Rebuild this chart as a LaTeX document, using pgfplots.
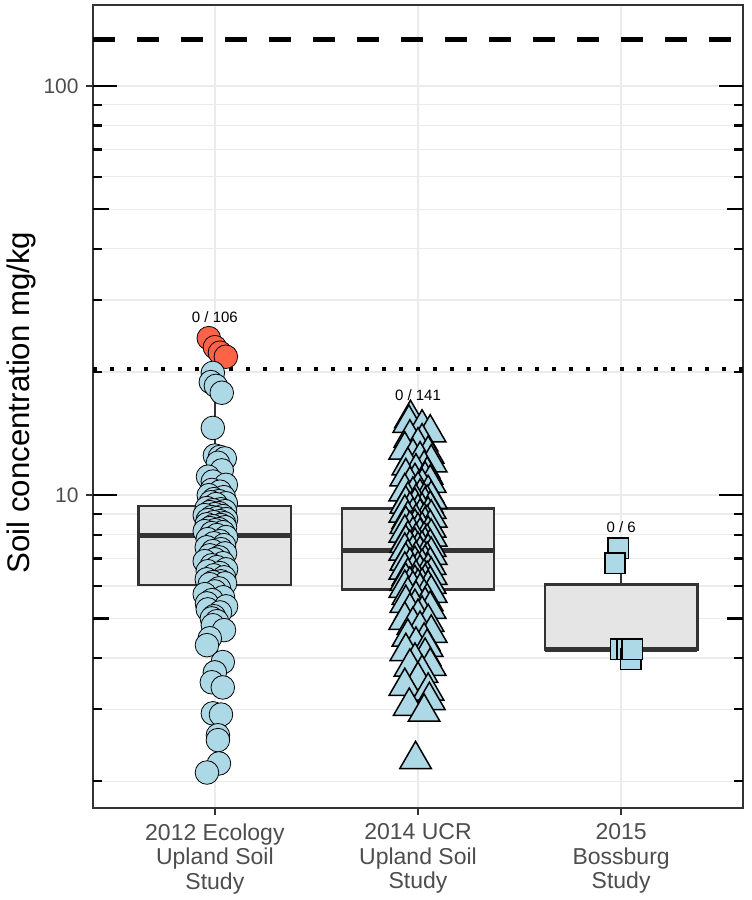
\documentclass[border=0pt]{standalone}
\usepackage{fontspec}
\setmainfont{Liberation Sans}
\usepackage{pgfplots}
\pgfplotsset{compat=1.18}
\definecolor{gridgray}{HTML}{EBEBEB}
\definecolor{gray20}{HTML}{333333}
\definecolor{gray30}{HTML}{4D4D4D}
\definecolor{gray90}{HTML}{E5E5E5}
\definecolor{ltblue}{HTML}{ADD8E6}
\definecolor{tomato}{HTML}{FF6347}
\pgfplotsset{
  circ/.style={only marks, mark=*, mark size=5.9pt, mark options={draw=black, line width=0.75pt}},
  tri/.style={only marks, mark=triangle*, mark size=9.1pt, mark options={fill=ltblue, draw=black, line width=0.75pt}},
  sq/.style={only marks, mark=square*, mark size=5.1pt, mark options={fill=ltblue, draw=black, line width=0.75pt}},
  whisk/.style={gray20, line width=1.1pt},
  boxs/.style={fill=gray90, draw=gray20, line width=1.3pt},
  med/.style={gray20, line width=2.6pt},
}
\begin{document}
\begin{tikzpicture}
\path[use as bounding box] (-46.5pt,-46pt) rectangle (329pt,404pt);
\begin{axis}[
  at={(0pt,0pt)}, anchor=south west,
  scale only axis, width=325pt, height=401.5pt,
  xmin=0.4, xmax=3.6,
  ymode=log, ymin=1.72, ymax=157.8,
  xtick={1,2,3},
  xticklabels={{2012 Ecology\\Upland Soil\\Study},{2014 UCR\\Upland Soil\\Study},{2015\\Bossburg\\Study}},
  ytick={10,100}, yticklabels={10,100},
  minor ytick={2,3,4,5,6,7,8,9,20,30,40,50,60,70,80,90},
  xtick pos=left, ytick pos=left,
  tick align=outside, major tick length=3.5pt, minor tick length=0pt,
  tick style={gray20, line width=1.1pt},
  xmajorgrids, ymajorgrids, yminorgrids,
  major grid style={gridgray, line width=0.85pt},
  minor grid style={gridgray, line width=0.6pt},
  axis line style={gray20, line width=1.2pt},
  xticklabel style={align=center, font=\fontsize{11.5}{12.35}\selectfont, text=gray30, inner sep=0pt, yshift=-4pt},
  yticklabel style={font=\fontsize{10.5}{12}\selectfont, text=gray30, inner sep=0pt, xshift=-3.5pt},
  ylabel={Soil concentration mg/kg},
  ylabel style={at={(axis description cs:-0.087,0.505)}, anchor=south, inner sep=0pt, font=\fontsize{15.6}{18}\selectfont, text=black},
]
% reference lines
\addplot[black, line width=2.6pt, dash pattern=on 11pt off 11pt] coordinates {(0.4,130) (3.6,130)};
\addplot[black, line width=2.1pt, dash pattern=on 2.1pt off 6.4pt] coordinates {(0.4,20.3) (3.6,20.3)};
% box 1
\addplot[whisk] coordinates {(1,9.40) (1,17.8)};
\addplot[whisk] coordinates {(1,6.03) (1,3.39)};
\addplot[boxs] coordinates {(0.625,6.03) (1.375,6.03) (1.375,9.40) (0.625,9.40)} -- cycle;
\addplot[med] coordinates {(0.625,7.98) (1.375,7.98)};
% box 2
\addplot[whisk] coordinates {(2,9.29) (2,15.4)};
\addplot[whisk] coordinates {(2,5.89) (2,3.05)};
\addplot[boxs] coordinates {(1.625,5.89) (2.375,5.89) (2.375,9.29) (1.625,9.29)} -- cycle;
\addplot[med] coordinates {(1.625,7.34) (2.375,7.34)};
% box 3
\addplot[whisk] coordinates {(3,6.04) (3,7.42)};
\addplot[whisk] coordinates {(3,4.20) (3,3.97)};
\addplot[boxs] coordinates {(2.625,4.20) (3.375,4.20) (3.375,6.04) (2.625,6.04)} -- cycle;
\addplot[med] coordinates {(2.625,4.20) (3.375,4.20)};
% group 1 points above threshold
\addplot[circ, mark options={fill=tomato}] coordinates {
(0.970,24.2) (1.000,23.0) (1.025,22.3) (1.054,21.8)};
% group 1 points
\addplot[circ, mark options={fill=ltblue}] coordinates {
(0.990,19.9) (0.980,18.9) (1.005,18.5) (1.034,17.8) (0.990,14.6) (1.000,12.5) (1.025,12.4) (1.049,12.3)
(1.015,12.0) (1.034,11.5) (0.966,11.1) (0.990,10.8) (1.054,10.6) (0.985,10.3) (1.025,10.2) (0.970,10.0)
(1.044,9.89) (0.995,9.78) (1.020,9.67) (0.980,9.61) (1.054,9.56) (1.005,9.51)
(0.960,9.30) (1.030,9.24) (0.990,9.19) (1.050,9.14) (0.975,9.09) (1.020,9.04) (1.000,8.99) (0.950,8.94)
(1.040,8.89) (0.985,8.84) (1.010,8.79) (1.055,8.74) (0.965,8.69) (1.025,8.64) (0.995,8.59) (1.045,8.54)
(0.960,8.49) (1.030,8.45) (0.990,8.40) (1.050,8.35) (0.975,8.31) (1.020,8.26) (1.000,8.21) (0.950,8.17)
(1.040,8.12) (0.985,8.08) (1.010,7.99) (1.055,7.90) (0.965,7.81) (1.025,7.72) (0.995,7.63) (1.045,7.55)
(0.960,7.46) (1.030,7.38) (0.990,7.30) (1.050,7.21) (0.975,7.13) (1.020,7.05) (1.000,6.97) (0.950,6.90)
(1.040,6.82) (0.985,6.74) (1.010,6.67) (1.055,6.59) (0.965,6.52) (1.025,6.45) (0.995,6.37) (1.045,6.30)
(0.960,6.23) (1.030,6.16) (0.990,6.13) (1.050,6.09) (0.975,6.06)
(1.020,5.92) (1.000,5.82) (0.950,5.73) (1.040,5.63) (0.985,5.54) (0.961,5.44) (1.055,5.35) (0.965,5.26)
(1.025,5.17) (0.995,5.06) (0.985,5.00) (1.010,4.92) (0.990,4.81) (1.045,4.68) (0.975,4.47) (0.961,4.30)
(1.039,3.91) (1.000,3.69) (0.985,3.49) (1.039,3.39) (0.990,2.93) (1.030,2.91) (1.015,2.59) (1.015,2.52)
(1.020,2.21) (0.961,2.10)};
% group 2 points
\addplot[tri] coordinates {
(1.963,15.4) (1.955,15.0) (2.020,14.6) (2.060,14.2) (1.960,13.8) (2.020,13.5) (2.000,13.2) (1.935,12.9)
(2.050,12.6) (1.975,12.4) (2.010,12.2) (2.065,12.0) (1.950,11.8) (2.030,11.6) (1.990,11.4) (2.045,11.2)
(1.940,11.1) (2.035,10.9) (1.985,10.8) (2.060,10.7) (1.960,10.6) (2.020,10.5) (2.000,10.3) (1.935,10.2)
(2.050,10.1) (1.975,10.0) (2.010,9.89) (2.065,9.78) (1.950,9.72) (2.030,9.67) (1.990,9.61) (2.045,9.56)
(1.940,9.51) (2.035,9.45) (1.985,9.40) (2.060,9.24) (1.960,9.19) (2.020,9.14) (2.000,9.09) (1.935,9.04)
(2.050,8.94) (1.975,8.89) (2.010,8.84) (2.065,8.79) (1.950,8.74) (2.030,8.64) (1.990,8.59) (2.045,8.54)
(1.940,8.49) (2.035,8.45) (1.985,8.35) (2.060,8.31) (1.960,8.26) (2.020,8.21) (2.000,8.17) (1.935,8.08)
(2.050,8.03) (1.975,7.99) (2.010,7.94) (2.065,7.90) (1.950,7.81) (2.030,7.76) (1.990,7.72) (2.045,7.68)
(1.940,7.63) (2.035,7.55) (1.985,7.51) (2.060,7.46) (1.960,7.42) (2.020,7.38) (2.000,7.34) (1.935,7.30)
(2.050,7.26) (1.975,7.21) (2.010,7.17) (2.065,7.13) (1.950,7.05) (2.030,7.01) (1.990,6.97) (2.045,6.94)
(1.940,6.90) (2.035,6.82) (1.985,6.78) (2.060,6.74) (1.960,6.71) (2.020,6.67) (2.000,6.59) (1.935,6.56)
(2.050,6.52) (1.975,6.48) (2.010,6.45) (2.065,6.37) (1.950,6.34) (2.030,6.30) (1.990,6.27) (2.045,6.23)
(1.940,6.16) (2.035,6.13) (1.985,6.09) (2.060,6.06) (1.960,6.03) (2.020,5.99) (2.000,5.96) (1.935,5.92)
(2.050,5.92) (1.975,5.89) (2.010,5.82) (2.065,5.76) (1.950,5.69) (2.030,5.63) (1.990,5.57) (2.045,5.50)
(1.940,5.44) (2.035,5.38) (1.985,5.32) (2.060,5.26) (1.960,5.20) (2.020,5.12) (2.000,5.03) (1.935,4.95)
(2.050,4.89) (1.975,4.81) (2.010,4.70) (2.065,4.60) (1.950,4.50) (2.030,4.40) (1.990,4.30) (2.045,4.25)
(1.940,4.15) (2.035,4.04) (1.985,3.93) (2.060,3.82) (1.960,3.80) (2.020,3.67) (2.000,3.53) (1.935,3.41)
(2.050,3.32) (2.056,3.15) (1.957,3.05) (2.030,2.95) (1.988,2.26)};
% group 3 points
\addplot[sq] coordinates {
(2.985,7.42) (2.970,6.82) (2.998,4.20) (3.030,4.20) (3.047,3.97) (3.054,4.20)};
% counts
\node[font=\fontsize{7.5}{9}\selectfont, anchor=base] at (axis cs:1,26.5) {0 / 106};
\node[font=\fontsize{7.5}{9}\selectfont, anchor=base] at (axis cs:2,17.0) {0 / 141};
\node[font=\fontsize{7.5}{9}\selectfont, anchor=base] at (axis cs:3,8.12) {0 / 6};
\end{axis}
% log ticks
\begin{axis}[
  at={(0pt,0pt)}, anchor=south west,
  scale only axis, width=325pt, height=401.5pt,
  xmin=0.4, xmax=3.6,
  ymode=log, ymin=1.72, ymax=157.8,
  axis line style={draw=none},
  xtick=\empty,
  ytick={10,100}, yticklabels={},
  minor ytick={2,3,4,6,7,8,9,20,30,40,60,70,80,90},
  extra y ticks={5,50}, extra y tick labels={},
  ytick pos=both, tick align=inside,
  major tick length=12pt, minor tick length=4.5pt,
  extra y tick style={major tick length=8pt},
  tick style={black, line width=1.2pt},
]
\addplot[draw=none] coordinates {(1,10)};
\end{axis}
\end{tikzpicture}
\end{document}
